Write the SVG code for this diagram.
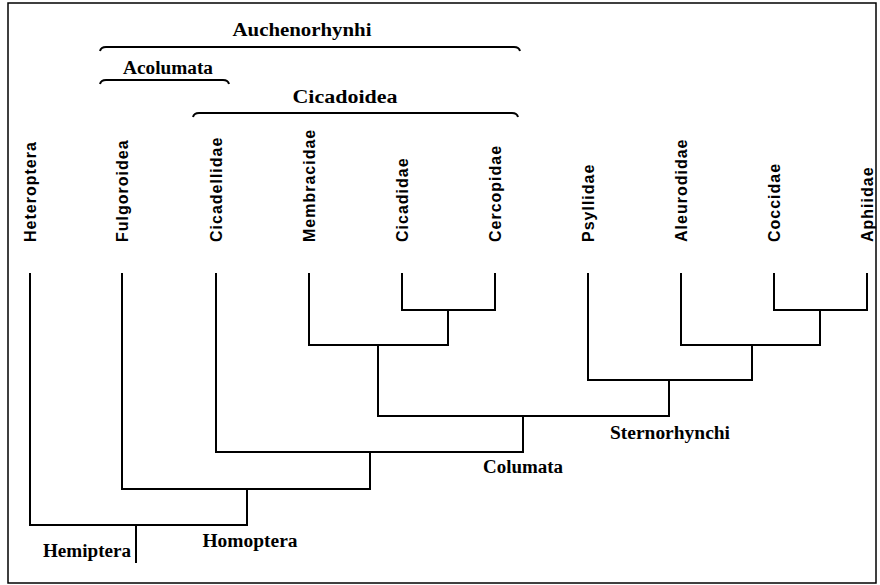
<svg xmlns="http://www.w3.org/2000/svg" width="880" height="585" viewBox="0 0 880 585">
<style>
.frame{fill:none;stroke:#000;stroke-width:1.5}
.ln{fill:none;stroke:#000;stroke-width:2;stroke-linecap:square}
.br{fill:none;stroke:#000;stroke-width:2}
.leaf{font-family:"Liberation Sans",Arial,sans-serif;font-weight:bold;font-size:16px;letter-spacing:1px;fill:#000}
.grp{font-family:"Liberation Serif","Times New Roman",serif;font-weight:bold;font-size:18px;fill:#000}
</style>
<rect width="880" height="585" fill="#fff"/>
<rect class="frame" x="8" y="3" width="868" height="580"/>
<g id="brackets">
<path class="br" d="M100,51 Q101,47 106,47 L514,47 Q519,47 520,51"/>
<path class="br" d="M100,84 Q101,80 106,80 L223,80 Q228,80 229,84"/>
<path class="br" d="M193,117 Q194,113 199,113 L512,113 Q517,113 518,117"/>
</g>
<g id="group-labels">
<text class="grp" x="302" y="36" text-anchor="middle" textLength="139" lengthAdjust="spacingAndGlyphs">Auchenorhynhi</text>
<text class="grp" x="168" y="74" text-anchor="middle" textLength="90" lengthAdjust="spacingAndGlyphs">Acolumata</text>
<text class="grp" x="345" y="103" text-anchor="middle" textLength="105" lengthAdjust="spacingAndGlyphs">Cicadoidea</text>
<text class="grp" x="87" y="557" text-anchor="middle" textLength="88" lengthAdjust="spacingAndGlyphs">Hemiptera</text>
<text class="grp" x="250" y="547" text-anchor="middle" textLength="95" lengthAdjust="spacingAndGlyphs">Homoptera</text>
<text class="grp" x="523" y="473" text-anchor="middle" textLength="80" lengthAdjust="spacingAndGlyphs">Columata</text>
<text class="grp" x="670" y="439" text-anchor="middle" textLength="120" lengthAdjust="spacingAndGlyphs">Sternorhynchi</text>
</g>
<g id="leaf-Heteroptera"><text class="leaf" transform="translate(36,242) rotate(-90)">Heteroptera</text></g>
<g id="leaf-Fulgoroidea"><text class="leaf" transform="translate(128,242) rotate(-90)">Fulgoroidea</text></g>
<g id="leaf-Cicadellidae"><text class="leaf" transform="translate(222,242) rotate(-90)">Cicadellidae</text></g>
<g id="leaf-Membracidae"><text class="leaf" transform="translate(315,242) rotate(-90)">Membracidae</text></g>
<g id="leaf-Cicadidae"><text class="leaf" transform="translate(408,242) rotate(-90)">Cicadidae</text></g>
<g id="leaf-Cercopidae"><text class="leaf" transform="translate(501,242) rotate(-90)">Cercopidae</text></g>
<g id="leaf-Psyllidae"><text class="leaf" transform="translate(594,242) rotate(-90)">Psyllidae</text></g>
<g id="leaf-Aleurodidae"><text class="leaf" transform="translate(687,242) rotate(-90)">Aleurodidae</text></g>
<g id="leaf-Coccidae"><text class="leaf" transform="translate(780,242) rotate(-90)">Coccidae</text></g>
<g id="leaf-Aphiidae"><text class="leaf" transform="translate(873,242) rotate(-90)">Aphiidae</text></g>
<g id="connectors">
<path class="ln" d="M402,274 V310 H495 V274"/>
<path class="ln" d="M774,274 V310 H867 V274"/>
<path class="ln" d="M309,274 V345 H448 V310"/>
<path class="ln" d="M681,274 V345 H820 V310"/>
<path class="ln" d="M588,274 V380 H752 V345"/>
<path class="ln" d="M378,345 V416 H669 V380"/>
<path class="ln" d="M216,274 V452 H523 V416"/>
<path class="ln" d="M122,274 V489 H370 V452"/>
<path class="ln" d="M30,274 V525 H247 V489"/>
<path class="ln" d="M136,525 V562"/>
</g>
</svg>
